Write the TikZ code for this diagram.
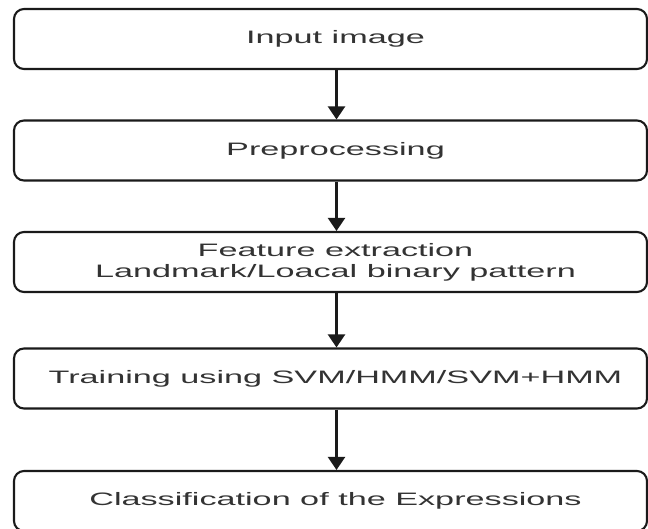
\documentclass[tikz,border=0pt]{standalone}
\usepackage{fontspec}
\setmainfont{Liberation Sans}
\newfontfamily\widefont[FakeStretch=1.9]{Liberation Sans}
\usetikzlibrary{arrows.meta}
\definecolor{txtgray}{HTML}{333333}
\definecolor{linegray}{HTML}{1A1A1A}
\newcommand{\sh}{\hspace*{10pt}}
\begin{document}
\begin{tikzpicture}[x=1pt,y=-1pt,
  stepbox/.style={draw=linegray, line width=2.1pt, rounded corners=10pt,
    minimum width=633pt, minimum height=60pt, align=center,
    text=txtgray, font=\widefont\fontsize{18}{21}\selectfont},
  flow/.style={draw=linegray, line width=2.2pt, -{Triangle[width=17pt,length=13pt]}}]
\useasboundingbox (0,0) rectangle (648,528);
\fill[white] (0,0) rectangle (648,528);
\begin{scope}
\clip (0,0) rectangle (648,528);
\node[stepbox] (n1) at (330.5,39) {\sh Input image};
\node[stepbox] (n2) at (330.5,150.5) {\sh Preprocessing};
\node[stepbox] (n3) at (330.5,262) {\sh Feature extraction\\\sh Landmark/Loacal binary pattern};
\node[stepbox] (n4) at (330.5,378.5) {\sh Training using SVM/HMM/SVM+HMM};
\node[stepbox] (n5) at (330.5,501) {\sh Classification of the Expressions};
\draw[flow] ([xshift=6pt]n1.south) -- ([xshift=6pt]n2.north);
\draw[flow] ([xshift=6pt]n2.south) -- ([xshift=6pt]n3.north);
\draw[flow] ([xshift=6pt]n3.south) -- ([xshift=6pt]n4.north);
\draw[flow] ([xshift=6pt]n4.south) -- ([xshift=6pt]n5.north);
\end{scope}
\end{tikzpicture}
\end{document}
